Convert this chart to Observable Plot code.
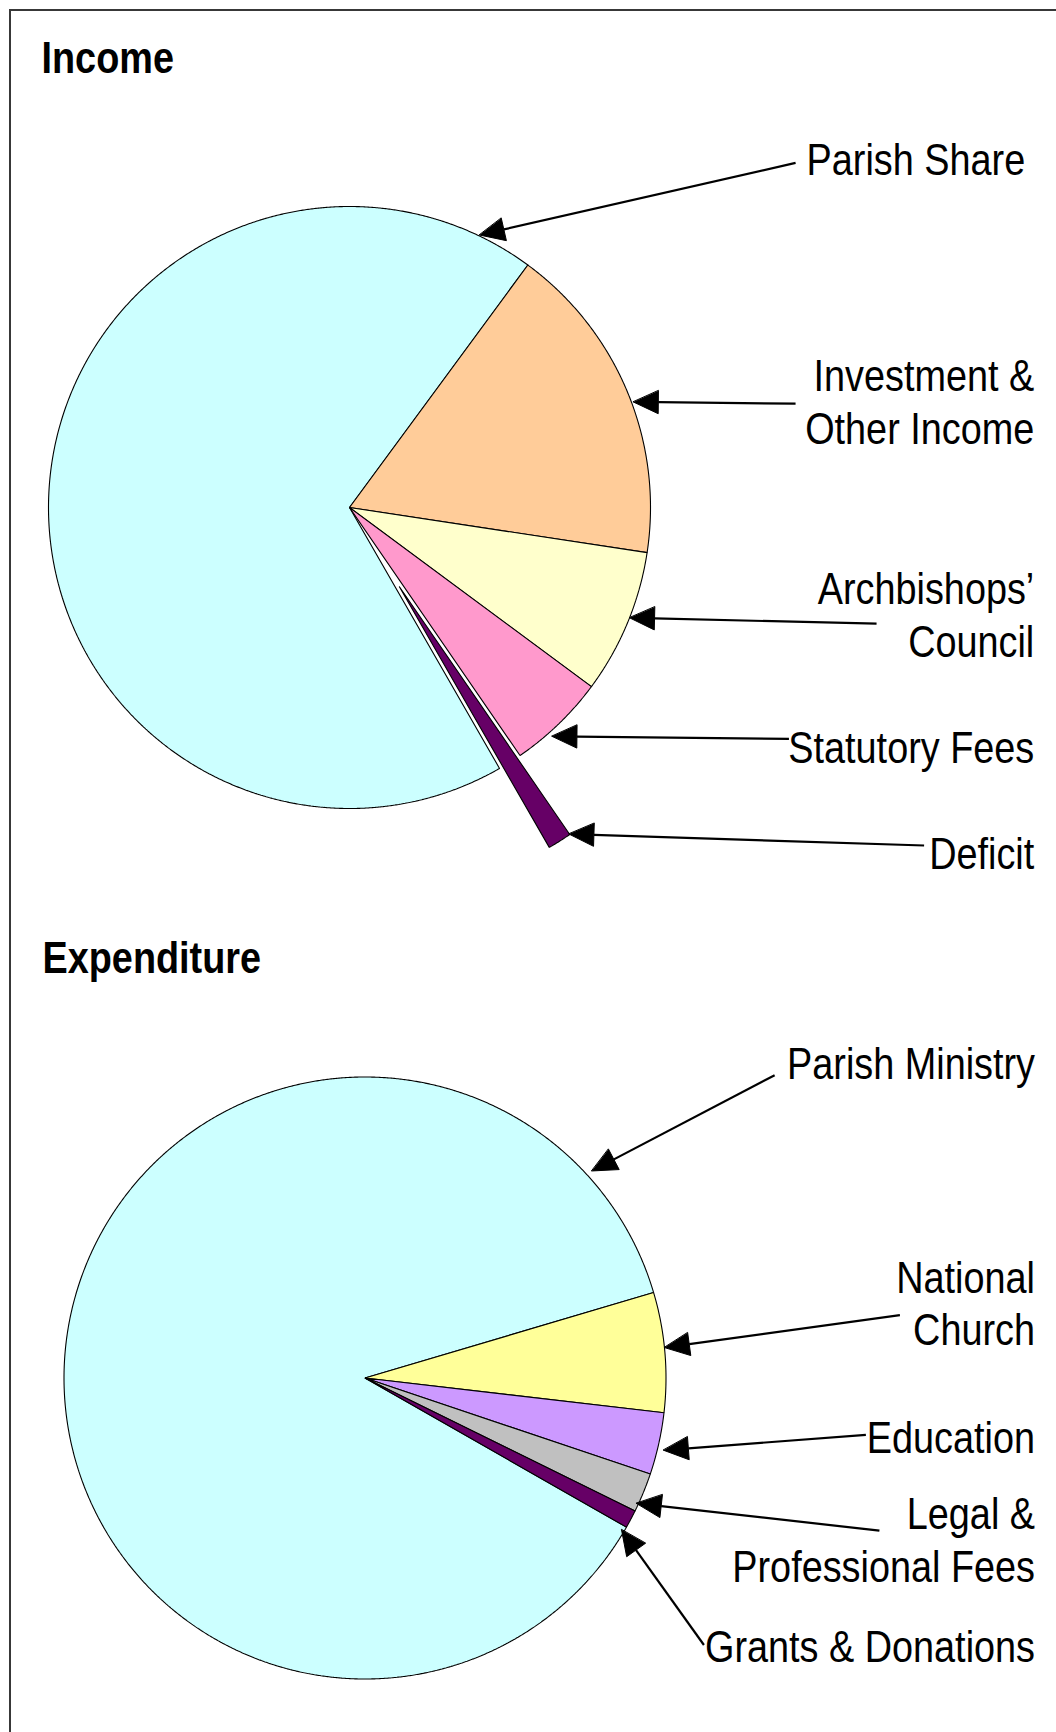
<!DOCTYPE html>
<html><head><meta charset="utf-8">
<script src="https://cdn.jsdelivr.net/npm/d3@7"></script>
<script src="https://cdn.jsdelivr.net/npm/@observablehq/plot@0.6"></script>
<style>
html,body{margin:0;padding:0;overflow:hidden;background:#fff;}
#wrap{position:relative;width:1056px;height:1732px;overflow:hidden;background:#fff;}
#frame{position:absolute;left:9px;top:9px;width:1200px;height:1900px;border:2px solid #383838;box-sizing:border-box;pointer-events:none;z-index:2}
.panel{position:absolute;left:0;width:1056px}
#income{top:0}
#expenditure{top:880px}
</style></head><body>
<div id="wrap"><div id="income" class="panel"></div><div id="expenditure" class="panel"></div><div id="frame"></div></div>
<script>
// ---------- data ----------
const incomeTitle = "Income";
const incomeCategories = ["Parish Share", "Investment & Other Income", "Archbishops’ Council", "Statutory Fees", "Deficit"];
const incomeValues = [68.4, 17.3, 7.75, 5.27, 1.28];
const incomeColors = ["#CCFFFF", "#FFCC99", "#FFFFCC", "#FF99CC", "#660066"];
const incomeExplode = [0, 0, 0, 0, 0.31];
const incomeLabels = ["Parish Share", "Investment &\nOther Income", "Archbishops’\nCouncil", "Statutory Fees", "Deficit"];
const incomeLabelX = [2.245, 2.275, 2.275, 2.275, 2.275];
const incomeLabelY = [1.103, 0.21, -0.497, -0.85, -1.2];
const incomeArrowTailX = [1.482, 1.482, 1.751, 1.46, 1.909];
const incomeArrowTailY = [1.145, 0.345, -0.386, -0.769, -1.123];
const incomeArrowTipAngle = [25.5, 69.6, 111.5, 138.5, 146.1];
const incomeArrowTipRadius = [1.003, 1.006, 1.0, 1.015, 1.307];

const expenditureTitle = "Expenditure";
const expenditureCategories = ["Parish Ministry", "National Church", "Education", "Legal & Professional Fees", "Grants & Donations"];
const expenditureValues = [87.17, 6.42, 3.33, 2.11, 0.97];
const expenditureColors = ["#CCFFFF", "#FFFF99", "#CC99FF", "#C0C0C0", "#660066"];
const expenditureExplode = [0, 0, 0, 0, 0];
const expenditureLabels = ["Parish Ministry", "National\nChurch", "Education", "Legal &\nProfessional Fees", "Grants & Donations"];
const expenditureLabelX = [2.226, 2.226, 2.226, 2.226, 2.226];
const expenditureLabelY = [0.992, 0.108, -0.248, -0.678, -0.945];
const expenditureArrowTailX = [1.361, 1.777, 1.664, 1.709, 1.126];
const expenditureArrowTailY = [1.006, 0.209, -0.189, -0.507, -0.887];
const expenditureArrowTipAngle = [47.6, 84.2, 103.6, 114.8, 120.6];
const expenditureArrowTipRadius = [1.02, 1.0, 1.02, 0.993, 0.99];

// ---------- layout ----------
const W = 1056;
const R = 301;            // pie radius in px (1 data unit)
const FONT = "'Liberation Sans', Arial, sans-serif";
const STRETCH = 0.86;     // horizontal compression of the text in the reference

function piePoints(categories, values, startDeg, explode) {
  const arcs = d3.pie().sort(null).value(d => d)
    .startAngle(startDeg * Math.PI / 180)
    .endAngle(startDeg * Math.PI / 180 + 2 * Math.PI)(values);
  const pts = [];
  arcs.forEach((a, i) => {
    const mid = (a.startAngle + a.endAngle) / 2;
    const ox = explode[i] * Math.sin(mid), oy = explode[i] * Math.cos(mid);
    pts.push({name: categories[i], x: ox, y: oy});
    const n = Math.max(2, Math.ceil((a.endAngle - a.startAngle) / (0.25 * Math.PI / 180)));
    for (let k = 0; k <= n; ++k) {
      const t = a.startAngle + (a.endAngle - a.startAngle) * k / n;
      pts.push({name: categories[i], x: ox + Math.sin(t), y: oy + Math.cos(t)});
    }
  });
  return pts;
}

function arrowData(tx, ty, ang, rad) {
  const links = [], heads = [];
  const L = 25 / R, HW = 11.5 / R;
  tx.forEach((x0, i) => {
    const a = ang[i] * Math.PI / 180;
    const x1 = rad[i] * Math.sin(a), y1 = rad[i] * Math.cos(a);
    const dx = x1 - x0, dy = y1 - ty[i], len = Math.hypot(dx, dy);
    const ux = dx / len, uy = dy / len;
    const bx = x1 - ux * L, by = y1 - uy * L;
    links.push({x1: x0, y1: ty[i], x2: bx, y2: by});
    heads.push({id: i, x: x1, y: y1});
    heads.push({id: i, x: bx - uy * HW, y: by + ux * HW});
    heads.push({id: i, x: bx + uy * HW, y: by - ux * HW});
  });
  return {links, heads};
}

function chart(cfg) {
  const {height, cx, cy} = cfg;
  const pts = piePoints(cfg.categories, cfg.values, cfg.start, cfg.explode);
  const arr = arrowData(cfg.tailX, cfg.tailY, cfg.tipAngle, cfg.tipRadius);
  const labels = cfg.labels.map((t, i) => ({t, x: cfg.labelX[i], y: cfg.labelY[i]}));
  const svg = Plot.plot({
    width: W, height, margin: 0,
    style: {background: "transparent", fontFamily: FONT, color: "#000"},
    x: {domain: [-cx / R, (W - cx) / R], axis: null},
    y: {domain: [(cy - height) / R, cy / R], axis: null},
    color: {domain: cfg.categories, range: cfg.colors},
    marks: [
      Plot.line(pts, {x: "x", y: "y", z: "name", fill: "name", stroke: "#000", strokeWidth: 1.1, curve: "linear-closed", strokeLinejoin: "miter"}),
      Plot.link(arr.links, {x1: "x1", y1: "y1", x2: "x2", y2: "y2", stroke: "#000", strokeWidth: 2.2}),
      Plot.line(arr.heads, {x: "x", y: "y", z: "id", fill: "#000", stroke: "#000", strokeWidth: 1, curve: "linear-closed"}),
      Plot.text(labels, {x: "x", y: "y", text: "t", textAnchor: "end", lineAnchor: "bottom", lineHeight: 1.2, fontSize: 44, fill: "#000"}),
      Plot.text([cfg.title], {frameAnchor: "top-left", dx: cfg.titleX, dy: cfg.titleY, textAnchor: "start", lineAnchor: "bottom", fontSize: 44, fontWeight: "bold", fill: "#000"})
    ]
  });
  svg.querySelectorAll("text").forEach(t => {
    t.setAttribute("transform", (t.getAttribute("transform") || "") + ` scale(${STRETCH},1)`);
  });
  return svg;
}

document.getElementById("income").appendChild(chart({
  height: 880, cx: 349, cy: 507, start: 150.1,
  title: incomeTitle, titleX: 41, titleY: 72,
  categories: incomeCategories, values: incomeValues, colors: incomeColors, explode: incomeExplode,
  labels: incomeLabels, labelX: incomeLabelX, labelY: incomeLabelY,
  tailX: incomeArrowTailX, tailY: incomeArrowTailY, tipAngle: incomeArrowTipAngle, tipRadius: incomeArrowTipRadius
}));

document.getElementById("expenditure").appendChild(chart({
  height: 852, cx: 364.5, cy: 497.5, start: 119.7,
  title: expenditureTitle, titleX: 42, titleY: 92,
  categories: expenditureCategories, values: expenditureValues, colors: expenditureColors, explode: expenditureExplode,
  labels: expenditureLabels, labelX: expenditureLabelX, labelY: expenditureLabelY,
  tailX: expenditureArrowTailX, tailY: expenditureArrowTailY, tipAngle: expenditureArrowTipAngle, tipRadius: expenditureArrowTipRadius
}));
</script>
</body></html>
